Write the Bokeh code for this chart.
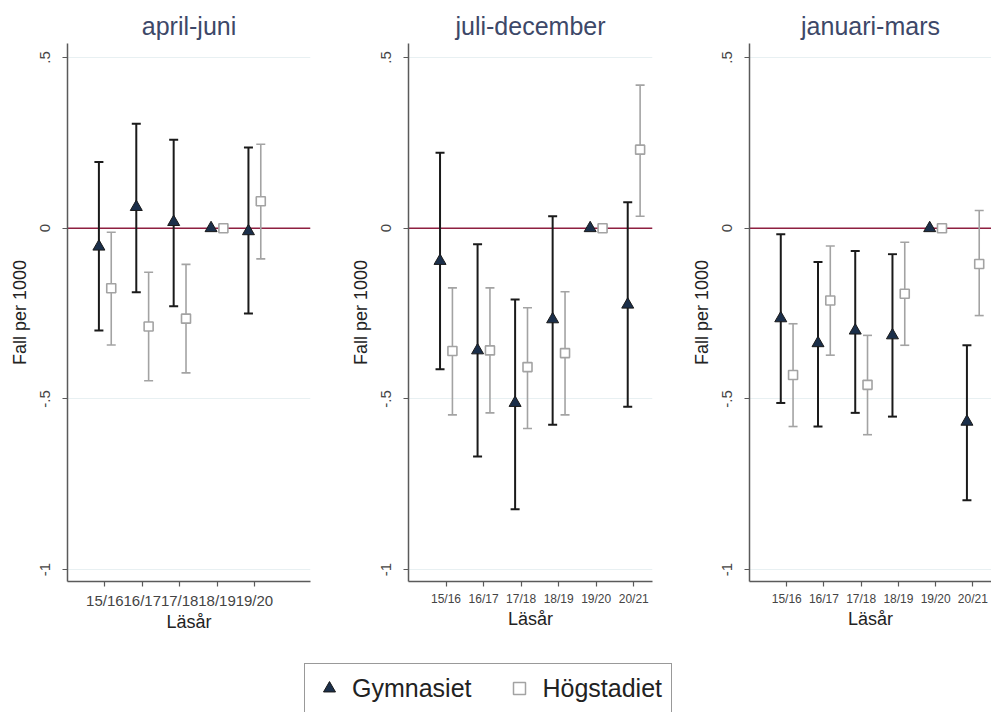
import math
from bokeh.plotting import figure
from bokeh.layouts import row, column
from bokeh.models import (Range1d, FixedTicker, Span, Legend, LegendItem)
from bokeh.embed import file_html
from bokeh.resources import INLINE

nan = float("nan")

# ---------------- data ----------------
titles = ["april-juni", "juli-december", "januari-mars"]

cats_aj = ["15/16", "16/17", "17/18", "18/19", "19/20"]
aj_gym_est = [-0.054, 0.062, 0.018, 0.0, -0.009]
aj_gym_lo = [-0.300, -0.188, -0.229, nan, -0.250]
aj_gym_hi = [0.194, 0.306, 0.259, nan, 0.236]
aj_hog_est = [-0.176, -0.288, -0.265, 0.0, 0.079]
aj_hog_lo = [-0.342, -0.447, -0.424, nan, -0.090]
aj_hog_hi = [-0.012, -0.129, -0.106, nan, 0.246]

cats_jd = ["15/16", "16/17", "17/18", "18/19", "19/20", "20/21"]
jd_gym_est = [-0.096, -0.358, -0.512, -0.267, 0.0, -0.224]
jd_gym_lo = [-0.413, -0.669, -0.823, -0.576, nan, -0.523]
jd_gym_hi = [0.221, -0.047, -0.209, 0.035, nan, 0.076]
jd_hog_est = [-0.360, -0.358, -0.407, -0.366, 0.0, 0.230]
jd_hog_lo = [-0.547, -0.541, -0.587, -0.547, nan, 0.035]
jd_hog_hi = [-0.175, -0.175, -0.233, -0.186, nan, 0.419]

cats_jm = ["15/16", "16/17", "17/18", "18/19", "19/20", "20/21"]
jm_gym_est = [-0.264, -0.337, -0.300, -0.314, 0.0, -0.567]
jm_gym_lo = [-0.512, -0.581, -0.541, -0.552, nan, -0.797]
jm_gym_hi = [-0.018, -0.099, -0.067, -0.076, nan, -0.343]
jm_hog_est = [-0.430, -0.212, -0.459, -0.192, 0.0, -0.105]
jm_hog_lo = [-0.581, -0.372, -0.605, -0.343, nan, -0.256]
jm_hog_hi = [-0.280, -0.052, -0.314, -0.041, nan, 0.052]

y_ticks = [-1, -0.5, 0, 0.5]
y_tick_labels = ["-1", "-.5", "0", ".5"]

series_labels = ["Gymnasiet", "Högstadiet"]

# ---------------- style ----------------
FONT = "Liberation Sans"
GYM_FILL = "#1b2f4a"
GYM_LINE = "#1a1a1a"
HOG_LINE = "#a3a3a3"
ZERO_COLOR = "#8e1f40"
GRID_COLOR = "#e8f0f2"
AXIS_COLOR = "#5a5a5a"
TITLE_COLOR = "#3d4868"

GYM_OFF = -0.16
HOG_OFF = 0.17


def bars(xs, lo, hi):
    bx, bl, bh = [], [], []
    for x, l, h in zip(xs, lo, hi):
        if not (math.isnan(l) or math.isnan(h)):
            bx.append(x)
            bl.append(l)
            bh.append(h)
    return bx, bl, bh


def panel(title, cats, g_est, g_lo, g_hi, h_est, h_lo, h_hi,
          width, border_left, border_right, plot_h, tick_font):
    height = 640
    p = figure(width=width, height=height, output_backend="svg",
               toolbar_location=None,
               x_range=Range1d(0, 6.5), y_range=Range1d(-1.035, 0.541),
               min_border_left=border_left, min_border_right=border_right,
               min_border_top=43, min_border_bottom=height - 43 - plot_h,
               title=title)
    p.outline_line_color = None
    p.background_fill_color = "white"
    p.border_fill_color = "white"
    p.title.align = "center"
    p.title.text_font = FONT
    p.title.text_font_size = "25px"
    p.title.text_font_style = "normal"
    p.title.text_color = TITLE_COLOR
    p.title.standoff = 7

    idx = list(range(1, len(cats) + 1))
    p.xaxis.ticker = FixedTicker(ticks=idx)
    p.xaxis.major_label_overrides = {i: c for i, c in zip(idx, cats)}
    p.yaxis.ticker = FixedTicker(ticks=y_ticks)
    p.yaxis.major_label_overrides = {t: s for t, s in zip(y_ticks, y_tick_labels)}
    p.yaxis.major_label_orientation = "vertical"

    for ax in (p.xaxis, p.yaxis):
        ax.axis_line_color = AXIS_COLOR
        ax.axis_line_width = 1.5
        ax.major_tick_line_color = AXIS_COLOR
        ax.major_tick_line_width = 1.2
        ax.major_tick_out = 5
        ax.major_tick_in = 0
        ax.minor_tick_line_color = None
        ax.major_label_text_font = FONT
        ax.major_label_text_color = "#444444"
        ax.axis_label_text_font = FONT
        ax.axis_label_text_font_style = "normal"
        ax.axis_label_text_color = "#222222"
        ax.axis_label_text_font_size = "18px"

    p.xaxis.major_label_text_font_size = tick_font
    p.yaxis.major_label_text_font_size = "15px"
    p.xaxis.axis_label = "Läsår"
    p.yaxis.axis_label = "Fall per 1000"
    p.xaxis.axis_label_standoff = 0
    p.yaxis.axis_label_standoff = 8
    p.yaxis.major_label_standoff = 12

    p.xgrid.grid_line_color = None
    p.ygrid.grid_line_color = GRID_COLOR
    p.ygrid.grid_line_width = 1
    p.ygrid.ticker = FixedTicker(ticks=y_ticks)

    zero = Span(location=0, dimension="width", line_color=ZERO_COLOR,
                line_width=1.5, level="underlay")
    p.add_layout(zero)

    gx = [i + GYM_OFF for i in idx]
    hx = [i + HOG_OFF for i in idx]

    # Högstadiet error bars
    bx, bl, bh = bars(hx, h_lo, h_hi)
    p.segment(x0=bx, y0=bl, x1=bx, y1=bh, line_color=HOG_LINE, line_width=1.6)
    p.scatter(bx, bl, marker="dash", size=9, line_color=HOG_LINE, line_width=1.6)
    p.scatter(bx, bh, marker="dash", size=9, line_color=HOG_LINE, line_width=1.6)

    # Gymnasiet error bars
    bx, bl, bh = bars(gx, g_lo, g_hi)
    p.segment(x0=bx, y0=bl, x1=bx, y1=bh, line_color=GYM_LINE, line_width=2)
    p.scatter(bx, bl, marker="dash", size=9, line_color=GYM_LINE, line_width=2)
    p.scatter(bx, bh, marker="dash", size=9, line_color=GYM_LINE, line_width=2)

    p.scatter(hx, h_est, marker="square", size=9, fill_color="white",
              line_color=HOG_LINE, line_width=1.6)
    p.scatter(gx, g_est, marker="triangle", size=12, fill_color=GYM_FILL,
              line_color=GYM_LINE, line_width=1)
    return p


p1 = panel(titles[0], cats_aj, aj_gym_est, aj_gym_lo, aj_gym_hi,
           aj_hog_est, aj_hog_lo, aj_hog_hi,
           width=330, border_left=67, border_right=20, plot_h=538,
           tick_font="15px")
p2 = panel(titles[1], cats_jd, jd_gym_est, jd_gym_lo, jd_gym_hi,
           jd_hog_est, jd_hog_lo, jd_hog_hi,
           width=330, border_left=78, border_right=8, plot_h=543,
           tick_font="12px")
p3 = panel(titles[2], cats_jm, jm_gym_est, jm_gym_lo, jm_gym_hi,
           jm_hog_est, jm_hog_lo, jm_hog_hi,
           width=331, border_left=89, border_right=0, plot_h=543,
           tick_font="12px")

# ---------------- legend ----------------
lf = figure(width=991, height=72, output_backend="svg", toolbar_location=None,
            x_range=Range1d(0, 1), y_range=Range1d(0, 1),
            x_axis_type=None, y_axis_type=None,
            min_border=0)
lf.outline_line_color = None
lf.xgrid.grid_line_color = None
lf.ygrid.grid_line_color = None
# legend proxies: a single NaN point each, so nothing shows in the frame
rg = lf.scatter(x=[nan], y=[nan], marker="triangle", size=12, fill_color=GYM_FILL,
                line_color=GYM_LINE, line_width=1)
rh = lf.scatter(x=[nan], y=[nan], marker="square", size=10, fill_color="white",
                line_color=HOG_LINE, line_width=1.5)
leg = Legend(items=[LegendItem(label=series_labels[0], renderers=[rg]),
                    LegendItem(label=series_labels[1], renderers=[rh])],
             orientation="horizontal", location=(304, -1),
             glyph_width=30, glyph_height=30, label_standoff=8,
             spacing=33, padding=9, margin=0,
             label_text_font=FONT, label_text_font_size="25px",
             label_text_color="#222222",
             border_line_color="#333333", border_line_width=1.5,
             background_fill_color="white", background_fill_alpha=1)
lf.add_layout(leg, "center")

layout = column(row(p1, p2, p3), lf)

open("out.html", "w").write(file_html(layout, INLINE))
